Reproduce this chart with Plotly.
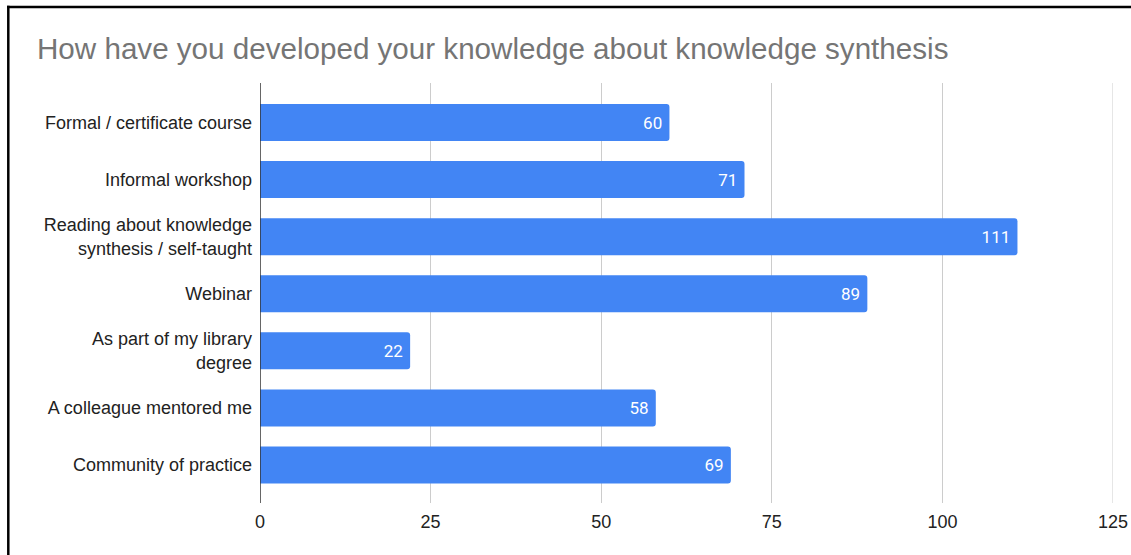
import plotly.graph_objects as go

title_text = "How have you developed your knowledge about knowledge synthesis"
categories = [
    "Formal / certificate course",
    "Informal workshop",
    "Reading about knowledge<br>synthesis / self-taught",
    "Webinar",
    "As part of my library<br>degree",
    "A colleague mentored me",
    "Community of practice",
]
counts = [60, 71, 111, 89, 22, 58, 69]
x_ticks = [0, 25, 50, 75, 100, 125]

W, H = 1131, 555
L, R, T, B = 260, 18, 83, 52
pw, ph = W - L - R, H - T - B

def px_x(p):
    return (p - L) / pw

def px_y(p):
    return (H - B - p) / ph

fig = go.Figure(
    go.Bar(
        x=counts,
        y=categories,
        orientation="h",
        marker=dict(color="#4285F4", cornerradius=3, line=dict(width=0)),
        text=[f"{v}\u00a0" for v in counts],
        textposition="inside",
        insidetextanchor="end",
        textfont=dict(family="Roboto", size=17, color="white"),
        cliponaxis=False,
        hoverinfo="x+y",
    )
)

fig.update_layout(
    width=W,
    height=H,
    margin=dict(l=L, r=R, t=T, b=B, pad=0, autoexpand=False),
    paper_bgcolor="white",
    plot_bgcolor="white",
    bargap=0.352,
    showlegend=False,
    title=dict(
        text=title_text,
        font=dict(family="Liberation Sans, Arial", size=29.6, color="#757575"),
        x=37 / W,
        xref="container",
        xanchor="left",
        y=1 - 49 / H,
        yref="container",
        yanchor="middle",
        automargin=False,
    ),
    xaxis=dict(
        range=[x_ticks[0], x_ticks[-1]],
        tickvals=x_ticks,
        ticktext=[str(t) for t in x_ticks],
        showgrid=True,
        gridcolor="#cccccc",
        gridwidth=1,
        zeroline=False,
        showline=False,
        ticks="",
        ticklabelstandoff=6,
        automargin=False,
        tickfont=dict(family="Liberation Sans, Arial", size=18, color="#222222"),
        fixedrange=True,
    ),
    yaxis=dict(
        type="category",
        categoryorder="array",
        categoryarray=categories,
        range=[6.665, -0.692],
        showgrid=False,
        zeroline=False,
        showline=False,
        ticks="",
        ticklabelstandoff=7,
        automargin=False,
        tickfont=dict(family="Liberation Sans, Arial", size=18, color="#222222"),
        fixedrange=True,
    ),
    shapes=[
        # gridline at the last tick (plotly culls the edge gridline)
        dict(type="line", xref="x", yref="paper", x0=x_ticks[-1], x1=x_ticks[-1],
             y0=0, y1=1, line=dict(color="#cccccc", width=1), layer="below"),
        # y axis line at x=0
        dict(type="line", xref="x", yref="paper", x0=x_ticks[0], x1=x_ticks[0],
             y0=0, y1=1, line=dict(color="#333333", width=1.5)),
        # outer frame (top and left edges)
        dict(type="line", xref="paper", yref="paper",
             x0=px_x(7), x1=px_x(1140), y0=px_y(7), y1=px_y(7),
             line=dict(color="black", width=2.5)),
        dict(type="line", xref="paper", yref="paper",
             x0=px_x(8.3), x1=px_x(8.3), y0=px_y(5.8), y1=px_y(565),
             line=dict(color="black", width=2.5)),
    ],
)

fig.write_html(
    "out.html",
    config={"displayModeBar": False, "responsive": False},
    post_script="document.body.style.margin='0';document.body.style.overflow='hidden';",
)
